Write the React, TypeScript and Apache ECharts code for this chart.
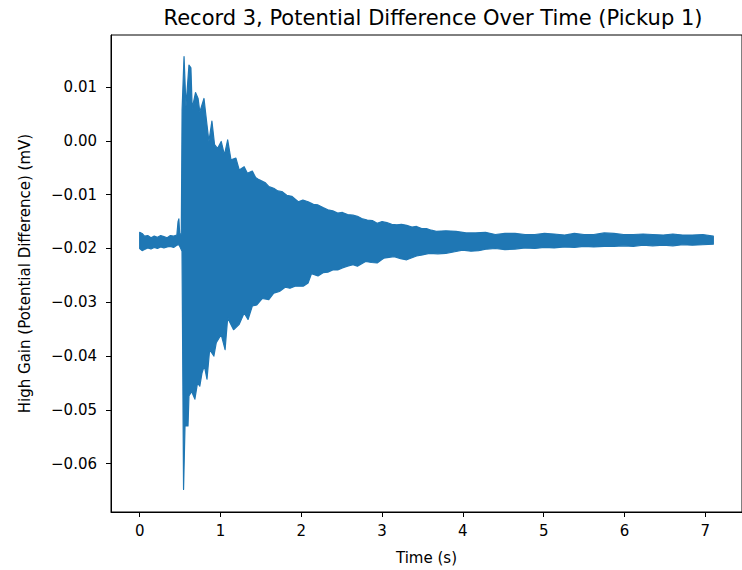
import React, { useEffect, useRef } from "react";
import * as echarts from "echarts";

// Upper envelope of the signal (time in s, potential difference in mV)
const upperT = [
  0.0, 0.03, 0.06, 0.1, 0.14, 0.18, 0.22, 0.26, 0.3, 0.34, 0.38, 0.42, 0.46, 0.475, 0.485, 0.495, 0.515,
  0.525, 0.549, 0.573, 0.61, 0.634, 0.65, 0.691, 0.723, 0.744, 0.796, 0.826, 0.857, 0.894, 0.927, 0.963,
  1.009, 1.049, 1.089, 1.13, 1.191, 1.232, 1.293, 1.333, 1.394, 1.435, 1.476, 1.557, 1.6, 1.659, 1.71,
  1.76, 1.82, 1.882, 1.963, 2.02, 2.085, 2.15, 2.207, 2.27, 2.329, 2.39, 2.451, 2.51, 2.573, 2.64, 2.695,
  2.76, 2.817, 2.88, 2.939, 3.0, 3.06, 3.12, 3.183, 3.24, 3.305, 3.37, 3.427, 3.49, 3.549, 3.61, 3.671,
  3.79, 3.915, 4.04, 4.159, 4.28, 4.402, 4.52, 4.646, 4.77, 4.89, 5.01, 5.13, 5.26, 5.38, 5.5, 5.62,
  5.75, 5.87, 5.99, 6.11, 6.23, 6.35, 6.48, 6.6, 6.72, 6.84, 6.97, 7.1,
];
const upperV = [
  -0.017, -0.0172, -0.0177, -0.0176, -0.018, -0.0177, -0.0179, -0.0176, -0.0178, -0.018, -0.0176, -0.0177,
  -0.0175, -0.015, -0.0145, -0.0172, -0.0174,
  0.0058, 0.0157, 0.0064, 0.0141, 0.0136, 0.006, 0.009, 0.0079, 0.0054, 0.0079, 0.0039, -0.0001, 0.0037,
  -0.0007, -0.0014, -0.0001, -0.0026, 0.0002, -0.0035, -0.0032, -0.0054, -0.0048, -0.006, -0.0056, -0.0068,
  -0.0072, -0.0078, -0.0085, -0.0088, -0.0093, -0.0094, -0.0101, -0.0103, -0.0113, -0.011, -0.0113, -0.0118,
  -0.0119, -0.0124, -0.0128, -0.013, -0.0134, -0.0133, -0.0137, -0.0138, -0.014, -0.0145, -0.0147, -0.0148,
  -0.0153, -0.015, -0.0152, -0.0155, -0.0156, -0.0155, -0.0157, -0.016, -0.0159, -0.0163, -0.0163, -0.0166,
  -0.0168, -0.0167, -0.0168, -0.0171, -0.0171, -0.017, -0.0174, -0.0172, -0.0172, -0.0174, -0.0174, -0.0172,
  -0.0173, -0.0175, -0.0172, -0.0174, -0.0174, -0.0171, -0.0172, -0.0174, -0.0174, -0.0173, -0.0174, -0.0175,
  -0.0173, -0.0175, -0.0175, -0.0174, -0.0177,
];

// Lower envelope of the signal
const lowerT = [
  0.0, 0.03, 0.06, 0.1, 0.14, 0.18, 0.22, 0.26, 0.3, 0.34, 0.38, 0.42, 0.46, 0.485, 0.5, 0.524,
  0.543, 0.561, 0.598, 0.61, 0.643, 0.683, 0.716, 0.744, 0.772, 0.8, 0.833, 0.866, 0.918, 0.948, 1.009,
  1.057, 1.089, 1.162, 1.232, 1.293, 1.341, 1.394, 1.45, 1.516, 1.598, 1.659, 1.73, 1.801, 1.86, 1.923,
  2.024, 2.085, 2.126, 2.207, 2.27, 2.329, 2.39, 2.451, 2.51, 2.573, 2.64, 2.695, 2.796, 2.87, 2.939,
  3.02, 3.15, 3.23, 3.305, 3.427, 3.5, 3.585, 3.69, 3.79, 3.9, 3.996, 4.1, 4.195, 4.3, 4.402, 4.52,
  4.646, 4.77, 4.89, 5.01, 5.13, 5.26, 5.38, 5.5, 5.62, 5.75, 5.87, 5.99, 6.11, 6.23, 6.35, 6.48, 6.6,
  6.72, 6.84, 6.97, 7.1,
];
const lowerV = [
  -0.02, -0.0204, -0.0202, -0.0199, -0.0201, -0.0198, -0.02, -0.0197, -0.0199, -0.0197, -0.0196, -0.0198,
  -0.0194, -0.0193, -0.0197, -0.0205,
  -0.0648, -0.053, -0.053, -0.0474, -0.0466, -0.048, -0.045, -0.0456, -0.0431, -0.0418, -0.0443, -0.0388,
  -0.04, -0.0375, -0.036, -0.0388, -0.0329, -0.0351, -0.0341, -0.032, -0.0332, -0.0307, -0.0305, -0.0293,
  -0.0295, -0.0283, -0.028, -0.0272, -0.0274, -0.027, -0.027, -0.0264, -0.0247, -0.0251, -0.0245, -0.0244,
  -0.024, -0.024, -0.0236, -0.0233, -0.023, -0.0233, -0.0224, -0.0226, -0.0227, -0.0218, -0.0215, -0.0219,
  -0.0221, -0.0214, -0.0212, -0.0209, -0.021, -0.0209, -0.0206, -0.0203, -0.0205, -0.0204, -0.0201, -0.02,
  -0.0202, -0.0201, -0.0199, -0.02, -0.0198, -0.0199, -0.0197, -0.0198, -0.0196, -0.0197, -0.0196, -0.0196,
  -0.0195, -0.0196, -0.0194, -0.0195, -0.0194, -0.0195, -0.0193, -0.0194, -0.0193, -0.0192,
];

const xTicks = [0, 1, 2, 3, 4, 5, 6, 7];
const yTicks = [-0.06, -0.05, -0.04, -0.03, -0.02, -0.01, 0.0, 0.01];

const TITLE = "Record 3, Potential Difference Over Time (Pickup 1)";
const X_NAME = "Time (s)";
const Y_NAME = "High Gain (Potential Difference) (mV)";

const FONT = "DejaVu Sans";
const BLUE = "#1f77b4";
const LABEL_SIZE = 15;

export default function App() {
  const ref = useRef<HTMLDivElement>(null);

  useEffect(() => {
    if (!ref.current) return;
    const chart = echarts.init(ref.current, null, { renderer: "svg" });

    const upper = upperT.map((t, i) => [t, upperV[i]]);
    const lower = lowerT.map((t, i) => [t, lowerV[i]]);

    const option: any = {
      animation: false,
      backgroundColor: "#ffffff",
      textStyle: { fontFamily: FONT },
      title: {
        text: TITLE,
        left: 428,
        textAlign: "center",
        top: 2,
        textStyle: { fontFamily: FONT, fontSize: 21, fontWeight: "normal", color: "#000" },
      },
      grid: {
        left: 111,
        top: 35,
        width: 639,
        height: 478,
        show: true,
        borderColor: "#000",
        borderWidth: 1,
        backgroundColor: "transparent",
        containLabel: false,
      },
      xAxis: {
        type: "value",
        min: -0.355,
        max: 7.455,
        name: X_NAME,
        nameLocation: "middle",
        nameGap: 38,
        nameTextStyle: { fontFamily: FONT, fontSize: LABEL_SIZE, color: "#000" },
        splitLine: { show: false },
        axisLine: { show: true, onZero: false, lineStyle: { color: "#000", width: 1 } },
        axisTick: { show: true, length: 5, customValues: xTicks, lineStyle: { color: "#000" } },
        axisLabel: {
          customValues: xTicks,
          margin: 11,
          fontFamily: FONT,
          fontSize: LABEL_SIZE,
          color: "#000",
          formatter: (v: number) => String(Math.round(v)),
        },
      },
      yAxis: {
        type: "value",
        min: -0.069,
        max: 0.0197,
        name: Y_NAME,
        nameLocation: "middle",
        nameRotate: 90,
        nameGap: 79,
        nameTextStyle: { fontFamily: FONT, fontSize: LABEL_SIZE, color: "#000" },
        splitLine: { show: false },
        axisLine: { show: true, onZero: false, lineStyle: { color: "#000", width: 1 } },
        axisTick: { show: true, length: 5, customValues: yTicks, lineStyle: { color: "#000" } },
        axisLabel: {
          customValues: yTicks,
          margin: 14,
          fontFamily: FONT,
          fontSize: LABEL_SIZE,
          color: "#000",
          formatter: (v: number) => {
            const s = Math.abs(v).toFixed(2);
            return v < -1e-9 ? "\u2212" + s : s;
          },
        },
      },
      series: [
        {
          type: "custom",
          name: "signal",
          clip: true,
          data: upper,
          encode: { x: 0, y: 1 },
          renderItem: (params: any, api: any) => {
            if (params.dataIndex !== 0) return null;
            const pts = upper
              .map((p) => api.coord(p))
              .concat(lower.slice().reverse().map((p) => api.coord(p)));
            return {
              type: "polygon",
              shape: { points: pts },
              style: { fill: BLUE, stroke: BLUE, lineWidth: 1.2, lineJoin: "round" },
            };
          },
        },
      ],
    };

    chart.setOption(option);
    return () => chart.dispose();
  }, []);

  return (
    <div
      ref={ref}
      style={{ position: "absolute", left: 0, top: 0, width: 742, height: 570 }}
    />
  );
}
